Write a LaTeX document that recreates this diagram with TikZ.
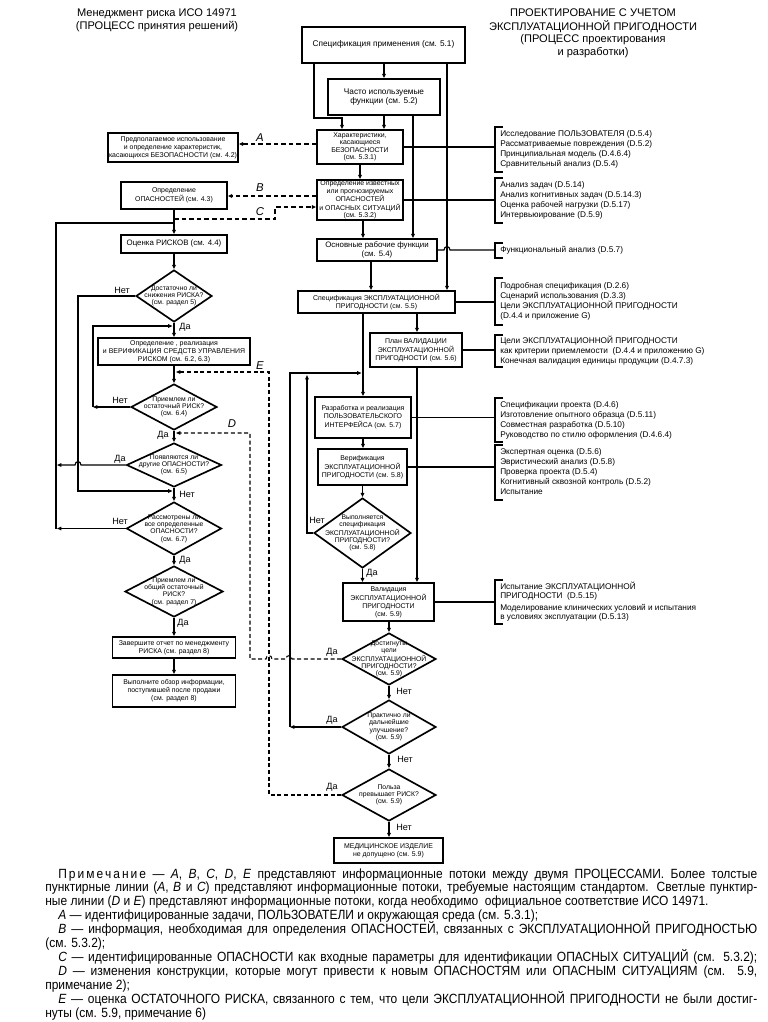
\documentclass[tikz,border=0pt]{standalone}
\usepackage{fontspec}
\setmainfont{Liberation Sans}
\newfontfamily\notefont{Liberation Sans}[FakeStretch=0.90]
\usetikzlibrary{arrows.meta,shapes.geometric}
\newcommand\tx[1]{\smash{\raisebox{-0.25em}{\makebox[0pt]{\begin{tabular}{@{}c@{}}#1\end{tabular}}}}}
\newcommand\ltx[1]{\begin{tabular}{@{}l@{}}#1\end{tabular}}
\begin{document}
\begin{tikzpicture}[x=0.75pt,y=-0.75pt,
  box/.style={draw,line width=1.25pt,rectangle,inner sep=0pt},
  dia/.style={draw,line width=1.25pt,diamond,inner sep=0pt},
  sz/.style 2 args={minimum width={#1*0.75pt},minimum height={#2*0.75pt}},
  fa/.style={font=\fontsize{6.2}{7}\selectfont},
  fb/.style={font=\fontsize{5.9}{6.6}\selectfont},
  fc/.style={font=\fontsize{5.2}{6.0}\selectfont},
  fct/.style={font=\fontsize{5.2}{5.5}\selectfont},
  fd/.style={font=\fontsize{5.1}{5.5}\selectfont},
  fbr/.style={font=\fontsize{6.2}{7.5}\selectfont,inner sep=0pt,anchor=west},
  fh/.style={font=\fontsize{8.3}{9.2}\selectfont,inner sep=0pt},
  conn/.style={line width=0.85pt},
  arrt/.style={-{Triangle[length=3.3pt,width=2.7pt]}},
  arr/.style={conn,arrt},
  dA/.style={line width=1.2pt,dash pattern=on 3.5pt off 2.2pt,arrt},
  dD/.style={line width=0.8pt,dash pattern=on 3pt off 2pt,arrt},
  brk/.style={line width=1.1pt},
  lab/.style={font=\fontsize{6.8}{7}\selectfont,inner sep=0pt},
  ltr/.style={font=\fontsize{8.5}{9}\selectfont\itshape,inner sep=0pt},
  note/.style={font=\notefont\fontsize{10}{10.4}\selectfont,inner sep=0pt,anchor=base west}
]
\fill[white] (0,0) rectangle (768,1022);
\useasboundingbox (0,0) rectangle (768,1022);

% headers
\node[fh] (hl) at (157,20.5) {\begin{tabular}{@{}c@{}}Менеджмент риска ИСО 14971\\(ПРОЦЕСС принятия решений)\end{tabular}};
\node[fh] (hr) at (593,33.5) {\begin{tabular}{@{}c@{}}ПРОЕКТИРОВАНИЕ С УЧЕТОМ\\ЭКСПЛУАТАЦИОННОЙ ПРИГОДНОСТИ\\(ПРОЦЕСС проектирования\\и разработки)\end{tabular}};

% right column
\node[box,sz={163}{36},fa] (spec1) at (383.5,45) {\tx{Спецификация применения (см. 5.1)}};
\node[box,sz={112}{36},fa] (freq) at (384,97) {\tx{Часто используемые\\функции (см. 5.2)}};
\node[box,sz={86}{34},fct] (char) at (360,147) {\tx{Характеристики,\\касающиеся\\БЕЗОПАСНОСТИ\\(см. 5.3.1)}};
\node[box,sz={86}{40},fct] (haz) at (360,200) {\tx{Определение известных\\или прогнозируемых\\ОПАСНОСТЕЙ\\и ОПАСНЫХ СИТУАЦИЙ\\(см. 5.3.2)}};
\node[box,sz={120}{22},fb] (basic) at (377,250) {\tx{Основные рабочие функции\\(см. 5.4)}};
\node[box,sz={157}{22},fc] (uspec) at (376.5,302) {\tx{Спецификация ЭКСПЛУАТАЦИОННОЙ\\ПРИГОДНОСТИ (см. 5.5)}};
\node[box,sz={92}{34},fc] (vplan) at (416,350) {\tx{План ВАЛИДАЦИИ\\ЭКСПЛУАТАЦИОННОЙ\\ПРИГОДНОСТИ (см. 5.6)}};
\node[box,sz={96}{41},fc] (ui) at (363,417.5) {\tx{Разработка и реализация\\ПОЛЬЗОВАТЕЛЬСКОГО\\ИНТЕРФЕЙСА (см. 5.7)}};
\node[box,sz={89}{36},fc] (verif) at (362.5,467) {\tx{Верификация\\ЭКСПЛУАТАЦИОННОЙ\\ПРИГОДНОСТИ (см. 5.8)}};
\node[dia,sz={97}{70},fd] (dspec) at (362.5,533) {\tx{Выполняется\\спецификация\\ЭКСПЛУАТАЦИОННОЙ\\ПРИГОДНОСТИ?\\(см. 5.8)}};
\node[box,sz={91}{38},fc] (valid) at (388.5,602) {\tx{Валидация\\ЭКСПЛУАТАЦИОННОЙ\\ПРИГОДНОСТИ\\(см. 5.9)}};
\node[dia,sz={94}{52},fd] (dgoal) at (389,659) {\tx{Достигнуты\\цели\\ЭКСПЛУАТАЦИОННОЙ\\ПРИГОДНОСТИ?\\(см. 5.9)}};
\node[dia,sz={94}{54},fd] (dimpr) at (389,727) {\tx{Практично ли\\дальнейшие\\улучшение?\\(см. 5.9)}};
\node[dia,sz={94}{52},fd] (dben) at (389,795) {\tx{Польза\\превышает РИСК?\\(см. 5.9)}};
\node[box,sz={109}{25},fc] (notok) at (388.5,850.5) {\tx{МЕДИЦИНСКОЕ ИЗДЕЛИЕ\\не допущено (см. 5.9)}};

% left column
\node[box,sz={130}{29},fc] (intend) at (173,147.5) {\tx{Предполагаемое использование\\и определение характеристик,\\касающихся БЕЗОПАСНОСТИ (см. 4.2)}};
\node[box,sz={106}{27},fc] (hazid) at (174,195.5) {\tx{Определение\\ОПАСНОСТЕЙ (см. 4.3)}};
\node[box,sz={106}{18},fb] (risk) at (174,244) {\tx{Оценка РИСКОВ (см. 4.4)}};
\node[dia,sz={76}{52},fd] (d1) at (174,296) {\tx{Достаточно ли\\снижения РИСКА?\\(см. раздел 5)}};
\node[box,sz={152}{27},fc] (ctrl) at (174,351.5) {\tx{Определение , реализация\\и ВЕРИФИКАЦИЯ СРЕДСТВ УПРАВЛЕНИЯ\\РИСКОМ (см. 6.2, 6.3)}};
\node[dia,sz={86}{46},fd] (d2) at (174,407) {\tx{Приемлем ли\\остаточный РИСК?\\(см. 6.4)}};
\node[dia,sz={95}{44},fd] (d3) at (174,465) {\tx{Появляются ли\\другие ОПАСНОСТИ?\\(см. 6.5)}};
\node[dia,sz={95}{53},fd] (d4) at (174,528.5) {\tx{Рассмотрены ли\\все определенные\\ОПАСНОСТИ?\\(см. 6.7)}};
\node[dia,sz={98}{51},fd] (d5) at (174,591.5) {\tx{Приемлем ли\\общий остаточный\\РИСК?\\(см. раздел 7)}};
\node[box,sz={123}{21},fc] (report) at (174,647.5) {\tx{Завершите отчет по менеджменту\\РИСКА (см. раздел 8)}};
\node[box,sz={123}{32},fc] (post) at (174,691) {\tx{Выполните обзор информации,\\поступившей после продажи\\(см. раздел 8)}};

% bracket texts
\node[fbr] (b1) at (500,149.5) {\ltx{Исследование ПОЛЬЗОВАТЕЛЯ (D.5.4)\\Рассматриваемые повреждения (D.5.2)\\Принципиальная модель (D.4.6.4)\\Сравнительный анализ (D.5.4)}};
\node[fbr] (b2) at (500,200.5) {\ltx{Анализ задач (D.5.14)\\Анализ когнитивных задач (D.5.14.3)\\Оценка рабочей нагрузки (D.5.17)\\Интервьюирование (D.5.9)}};
\node[fbr] (b3) at (500,250.5) {\ltx{Функциональный анализ (D.5.7)}};
\node[fbr] (b4) at (500,301.5) {\ltx{Подробная спецификация (D.2.6)\\Сценарий использования (D.3.3)\\Цели ЭКСПЛУАТАЦИОННОЙ ПРИГОДНОСТИ\\(D.4.4 и приложение G)}};
\node[fbr] (b5) at (500,351) {\ltx{Цели ЭКСПЛУАТАЦИОННОЙ ПРИГОДНОСТИ\\как критерии приемлемости\ \ (D.4.4 и приложению G)\\Конечная валидация единицы продукции (D.4.7.3)}};
\node[fbr] (b6) at (500,420) {\ltx{Спецификации проекта (D.4.6)\\Изготовление опытного образца (D.5.11)\\Совместная разработка (D.5.10)\\Руководство по стилю оформления (D.4.6.4)}};
\node[fbr] (b7) at (500,472.5) {\ltx{Экспертная оценка (D.5.6)\\Эвристический анализ (D.5.8)\\Проверка проекта (D.5.4)\\Когнитивный сквозной контроль (D.5.2)\\Испытание}};
\node[fbr,font=\fontsize{6.2}{6.8}\selectfont] (b8) at (500,602) {\ltx{Испытание ЭКСПЛУАТАЦИОННОЙ\\ПРИГОДНОСТИ\ \ (D.5.15)\\[2.5pt]Моделирование клинических условий и испытания\\в условиях эксплуатации (D.5.13)}};

% brackets
\draw[brk] (503,127) -- (495,127) -- (495,172) -- (503,172);
\draw[brk] (503,178) -- (495,178) -- (495,223) -- (503,223);
\draw[brk] (503,243) -- (495,243) -- (495,258) -- (503,258);
\draw[brk] (503,278) -- (495,278) -- (495,325) -- (503,325);
\draw[brk] (503,335) -- (495,335) -- (495,367) -- (503,367);
\draw[brk] (503,398) -- (495,398) -- (495,442) -- (503,442);
\draw[brk] (503,445) -- (495,445) -- (495,500) -- (503,500);
\draw[brk] (503,580) -- (495,580) -- (495,624) -- (503,624);

% bracket inputs
\draw[conn] (char.east) -- (char.east -| 495,0);
\draw[conn] (haz.east) -- (haz.east -| 495,0);
\draw[conn] (basic.east) -- (444,250) .. controls (444,245.5) and (450,245.5) .. (450,250) -- (495,250);
\draw[conn] (uspec.east) -- (uspec.east -| 495,0);
\draw[conn] (vplan.east) -- (vplan.east -| 495,0);
\draw[conn] (ui.east) -- (ui.east -| 495,0);
\draw[conn] (verif.east) -- (verif.east -| 495,0);
\draw[conn] (valid.east) -- (valid.east -| 495,0);

% right flow connectors
\draw[arr] (spec1.south -| freq.north) -- (freq.north);
\draw[arr] (spec1.south -| 314,0) |- (342,118) -- (char.north -| 342,0);
\draw[arr] (freq.south -| 384,0) -- (char.north -| 384,0);
\draw[arr] (freq.south -| 413,0) -- (basic.north -| 413,0);
\draw[arr] (spec1.south -| 447,0) -- (uspec.north -| 447,0);
\draw[arr] (char.south) -- (haz.north);
\draw[arr] (haz.south -| 363,0) -- (basic.north -| 363,0);
\draw[arr] (basic.south -| 371,0) -- (uspec.north -| 371,0);
\draw[arr] (uspec.south -| 417,0) -- (vplan.north -| 417,0);
\draw[arr] (uspec.south -| 363,0) -- (ui.north -| 363,0);
\draw[arr] (vplan.south -| 417,0) -- (valid.north -| 417,0);
\draw[arr] (ui.south -| 363,0) -- (verif.north -| 363,0);
\draw[arr] (verif.south -| dspec.north) -- (dspec.north);
\draw[arr] (dspec.south) -- (valid.north -| dspec.south);
\draw[arr] (valid.south -| dgoal.north) -- (dgoal.north);
\draw[arr] (dgoal.south) -- (dimpr.north);
\draw[arr] (dimpr.south) -- (dben.north);
\draw[arr] (dben.south) -- (notok.north -| dben.south);
\coordinate (jN1) at (307,375);
\draw[arr] (dspec.west) -| (jN1);
\coordinate (jY1) at (290,727);
\coordinate (jY2) at (361.5,373);
\draw[arr] (dimpr.west) -- (jY1);
\draw[arr] (jY1) |- (jY2);

% left flow connectors
\draw[arr] (hazid.south) -- (risk.north);
\draw[arr] (risk.south) -- (d1.north);
\draw[arr] (d1.south) -- (ctrl.north);
\draw[arr] (ctrl.south) -- (d2.north);
\draw[arr] (d2.south) -- (d3.north);
\draw[arr] (d3.south) -- (d4.north);
\draw[arr] (d4.south) -- (d5.north);
\draw[arr] (d5.south) -- (report.north);
\draw[arr] (report.south) -- (post.north);
\coordinate (jL1) at (172.5,491);
\draw[arr] (d1.west) -| (78,491) -- (jL1);
\coordinate (jL2) at (93,407);
\coordinate (jL3) at (172.5,326);
\draw[arr] (d2.west) -- (jL2);
\draw[arr] (jL2) |- (jL3);
\draw[arr] (d3.west) -- (81,465) .. controls (81,460.5) and (75,460.5) .. (75,465) -- (57,465);
\draw[arr] (d4.west) -- (57,528.5);
\draw[conn] (56,528.5) -- (56,223) -- (174,223);

% information flows A-E
\draw[dA] (char.west |- 0,144) -- (intend.east |- 0,144);
\draw[dA] (haz.west |- 0,196) -- (hazid.east |- 0,196);
\draw[dA] (174,219) -- (275,219) -- (275,207) -- (haz.west |- 0,207);
\coordinate (jD) at (176,433);
\draw[dD] (dgoal.west) -- (292,659) .. controls (292,654.5) and (286,654.5) .. (286,659) -- (272,659) .. controls (272,654.5) and (266,654.5) .. (266,659) -- (250,659) -- (250,433) -- (jD);
\coordinate (jE) at (176,372);
\draw[dD] (dben.west) -- (269,795) -- (269,372) -- (jE);
\node[ltr] (lA) at (260,138) {A};
\node[ltr] (lB) at (260,188) {B};
\node[ltr] (lC) at (260,212) {C};
\node[ltr] (lD) at (232,424) {D};
\node[ltr] (lE) at (260,366) {E};

% yes/no labels
\node[lab] (t1) at (122,290) {Нет};
\node[lab] (t2) at (185,327) {Да};
\node[lab] (t3) at (120,400) {Нет};
\node[lab] (t4) at (163,435) {Да};
\node[lab] (t5) at (120,459) {Да};
\node[lab] (t6) at (187,494) {Нет};
\node[lab] (t7) at (120,521) {Нет};
\node[lab] (t8) at (185,560) {Да};
\node[lab] (t9) at (183,623) {Да};
\node[lab] (t10) at (317,520) {Нет};
\node[lab] (t11) at (372,573) {Да};
\node[lab] (t12) at (332,652) {Да};
\node[lab] (t13) at (404,691) {Нет};
\node[lab] (t14) at (332,720) {Да};
\node[lab] (t15) at (405,759) {Нет};
\node[lab] (t16) at (332,787) {Да};
\node[lab] (t17) at (404,827) {Нет};

% note
\node[note] (n1) at (58,878) {\makebox[524.25pt][s]{П\kern1.5pt р\kern1.5pt и\kern1.5pt м\kern1.5pt е\kern1.5pt ч\kern1.5pt а\kern1.5pt н\kern1.5pt и\kern1.5pt е — \textit{A}, \textit{B}, \textit{C}, \textit{D}, \textit{E} представляют информационные потоки между двумя ПРОЦЕССАМИ. Более толстые}};
\node[note] (n2) at (45,891.9) {\makebox[534pt][s]{пунктирные линии (\textit{A}, \textit{B} и \textit{C}) представляют информационные потоки, требуемые настоящим стандартом. Светлые пунктир-}};
\node[note] (n3) at (45,905.8) {ные линии (\textit{D} и \textit{E}) представляют информационные потоки, когда необходимо\ \ официальное соответствие ИСО 14971.};
\node[note] (n4) at (58,919.7) {\textit{A} — идентифицированные задачи, ПОЛЬЗОВАТЕЛИ и окружающая среда (см. 5.3.1);};
\node[note] (n5) at (58,933.6) {\makebox[524.25pt][s]{\textit{B} — информация, необходимая для определения ОПАСНОСТЕЙ, связанных с ЭКСПЛУАТАЦИОННОЙ ПРИГОДНОСТЬЮ}};
\node[note] (n6) at (45,947.5) {(см. 5.3.2);};
\node[note] (n7) at (58,961.4) {\makebox[524.25pt][s]{\textit{C} — идентифицированные ОПАСНОСТИ как входные параметры для идентификации ОПАСНЫХ СИТУАЦИЙ (см. 5.3.2);}};
\node[note] (n8) at (58,975.3) {\makebox[524.25pt][s]{\textit{D} — изменения конструкции, которые могут привести к новым ОПАСНОСТЯМ или ОПАСНЫМ СИТУАЦИЯМ (см. 5.9,}};
\node[note] (n9) at (45,989.2) {примечание 2);};
\node[note] (n10) at (58,1003.1) {\makebox[524.25pt][s]{\textit{E} — оценка ОСТАТОЧНОГО РИСКА, связанного с тем, что цели ЭКСПЛУАТАЦИОННОЙ ПРИГОДНОСТИ не были достиг-}};
\node[note] (n11) at (45,1017) {нуты (см. 5.9, примечание 6)};
\end{tikzpicture}
\end{document}
